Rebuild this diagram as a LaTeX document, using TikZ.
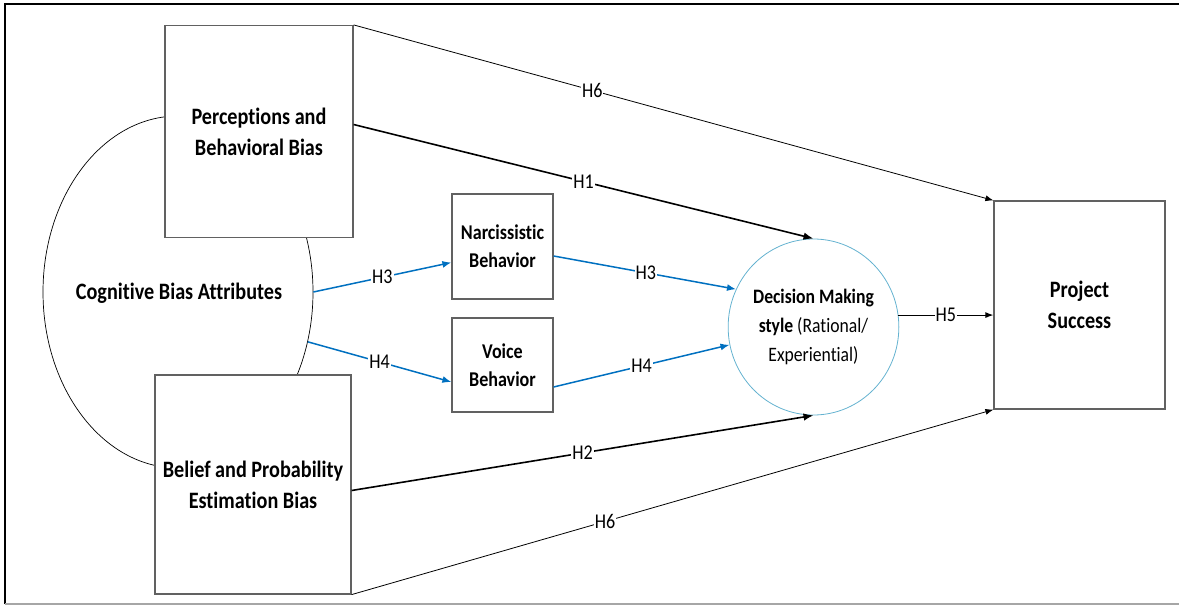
\documentclass[tikz,border=0pt]{standalone}
\usepackage{fontspec}
\setmainfont{Carlito}[FakeStretch=0.86,Ligatures=NoCommon]
\usetikzlibrary{arrows.meta,shapes.geometric}
\definecolor{pathblue}{RGB}{0,112,192}
\definecolor{ringblue}{RGB}{100,178,208}
\begin{document}
\begin{tikzpicture}[x=1pt,y=-1pt,
    bigbox/.style={draw=black!62,line width=1.2pt,fill=white,inner sep=0pt,align=center,
        font=\fontsize{23.5}{31}\selectfont\bfseries},
    smallbox/.style={draw=black!62,line width=1.2pt,fill=white,inner sep=0pt,align=center,
        font=\fontsize{21}{28}\selectfont\bfseries},
    hlabel/.style={fill=white,text=black,inner sep=1pt,font=\fontsize{21}{22}\selectfont},
    bluearrow/.style={pathblue,line width=1.5pt,-{Latex[length=9pt,width=7pt]}},
    boldarrow/.style={black,line width=1.6pt,-{Latex[length=10pt,width=7.5pt]}},
    thinarrow/.style={black,line width=0.8pt,-{Latex[length=8pt,width=6pt]}}]
    \useasboundingbox (0,0) rectangle (1179,605);
    \draw[line width=2pt] (5,604)--(5,3.5)--(1179,3.5);
    \draw[black!35,line width=1.5pt] (5,604)--(1179,604);
    \node[draw,ellipse,line width=0.7pt,minimum width=270pt,minimum height=352pt,inner sep=0pt] (cog) at (178,292) {};
    \node[font=\fontsize{23.5}{31}\selectfont\bfseries] (cogtext) at (179,293) {Cognitive Bias Attributes};
    \node[bigbox,minimum width=188pt,minimum height=212pt] (perc) at (259,131.5)
        {Perceptions and\\Behavioral Bias};
    \node[bigbox,minimum width=196pt,minimum height=219pt] (belief) at (253,484.5)
        {Belief and Probability\\Estimation Bias};
    \node[smallbox,minimum width=101pt,minimum height=105pt] (narc) at (502.5,246.5)
        {Narcissistic\\Behavior};
    \node[smallbox,minimum width=101pt,minimum height=94pt] (voice) at (502.5,365)
        {Voice\\Behavior};
    \node[draw=ringblue,ellipse,line width=0.8pt,minimum width=147pt,minimum height=176pt,
        inner sep=0pt,align=center,font=\fontsize{20.5}{29}\selectfont] (dec) at (813.5,327)
        {\textbf{Decision Making}\\\textbf{style} (Rational/\\Experiential)};
    \node[bigbox,minimum width=171pt,minimum height=208pt] (proj) at (1079.5,305)
        {Project\\Success};
    \draw[thinarrow] (perc.north east)--(proj.north west) node[hlabel,pos=0.373]{H6};
    \draw[boldarrow] ([yshift=7pt]perc.east)--(dec.north) node[hlabel,pos=0.5]{H1};
    \draw[boldarrow] ([yshift=-6pt]belief.east)--(dec.south) node[hlabel,pos=0.5]{H2};
    \draw[thinarrow] (belief.south east)--(proj.south west) node[hlabel,pos=0.395]{H6};
    \draw[bluearrow] (cog.east)--([yshift=-16pt]narc.west) node[hlabel,pos=0.5]{H3};
    \draw[bluearrow] (cog.-21)--([yshift=-17pt]voice.west) node[hlabel,pos=0.5]{H4};
    \draw[bluearrow] ([yshift=-9.5pt]narc.east)--(dec.154) node[hlabel,pos=0.505]{H3};
    \draw[bluearrow] ([yshift=-22pt]voice.east)--(dec.192) node[hlabel,pos=0.5]{H4};
    \draw[thinarrow,line width=1pt] (dec.8)--(proj.west |- dec.8) node[hlabel,pos=0.5]{H5};
\end{tikzpicture}
\end{document}
